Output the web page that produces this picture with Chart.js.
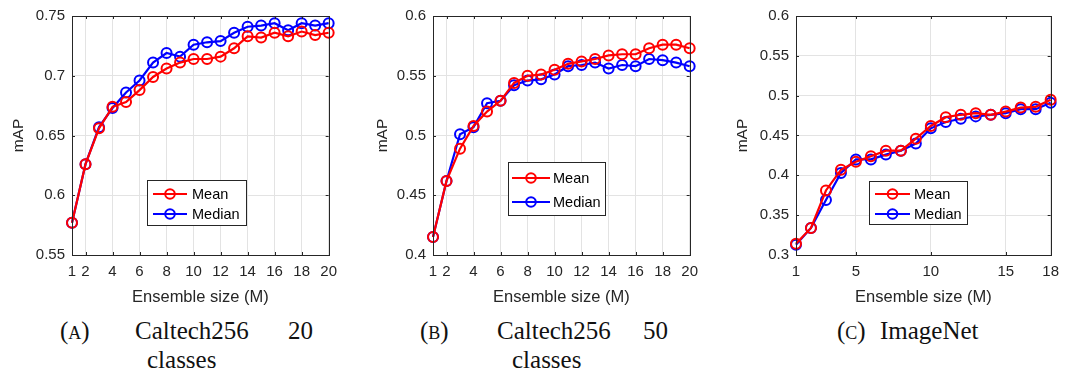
<!DOCTYPE html>
<html>
<head>
<meta charset="utf-8">
<script src="https://cdn.jsdelivr.net/npm/chart.js@4.4.0/dist/chart.umd.min.js"></script>
<style>
  html, body { margin: 0; padding: 0; background: #fff; }
  body { width: 1067px; height: 373px; position: relative; overflow: hidden; }
  canvas { position: absolute; top: 0; }
  .cap { position: absolute; font-family: "Liberation Serif", serif; font-size: 25px; line-height: 25px; color: #111; white-space: nowrap; }
  .sc { font-size: 18px; }
</style>
</head>
<body>
<canvas id="chartA" width="345" height="310" style="left:0"></canvas>
<canvas id="chartB" width="345" height="310" style="left:361px"></canvas>
<canvas id="chartC" width="343" height="310" style="left:724px"></canvas>

<span class="cap" style="left:60px;top:318px">(<span class="sc">A</span>)</span>
<span class="cap" style="left:135px;top:318px">Caltech256</span>
<span class="cap" style="left:288px;top:318px">20</span>
<span class="cap" style="left:147px;top:347px">classes</span>

<span class="cap" style="left:420px;top:318px">(<span class="sc">B</span>)</span>
<span class="cap" style="left:497px;top:318px">Caltech256</span>
<span class="cap" style="left:643px;top:318px">50</span>
<span class="cap" style="left:512px;top:347px">classes</span>

<span class="cap" style="left:837px;top:318px">(<span class="sc">C</span>)</span>
<span class="cap" style="left:880px;top:318px">ImageNet</span>

<script>
// ensemble sizes on the x axis
const sizesCaltech = [1, 2, 3, 4, 5, 6, 7, 8, 9, 10, 11, 12, 13, 14, 15, 16, 17, 18, 19, 20];
const sizesImageNet = [1, 2, 3, 4, 5, 6, 7, 8, 9, 10, 11, 12, 13, 14, 15, 16, 17, 18];

// mAP, Caltech256 with 20 classes
const caltech20Mean = [0.577, 0.626, 0.656, 0.674, 0.678, 0.688, 0.699, 0.706, 0.711, 0.714,
                       0.714, 0.716, 0.723, 0.733, 0.732, 0.736, 0.733, 0.737, 0.734, 0.736];
const caltech20Median = [0.577, 0.626, 0.657, 0.673, 0.686, 0.696, 0.711, 0.719, 0.716, 0.726,
                         0.728, 0.729, 0.736, 0.741, 0.742, 0.744, 0.738, 0.744, 0.742, 0.744];

// mAP, Caltech256 with 50 classes
const caltech50Mean = [0.415, 0.462, 0.489, 0.508, 0.520, 0.529, 0.544, 0.550, 0.551, 0.555,
                       0.560, 0.562, 0.564, 0.567, 0.568, 0.568, 0.573, 0.576, 0.576, 0.573];
const caltech50Median = [0.415, 0.462, 0.501, 0.507, 0.527, 0.529, 0.542, 0.546, 0.547, 0.551,
                         0.558, 0.559, 0.561, 0.556, 0.559, 0.558, 0.564, 0.563, 0.561, 0.558];

// mAP, ImageNet
const imagenetMean = [0.314, 0.334, 0.381, 0.407, 0.417, 0.424, 0.431, 0.431, 0.446, 0.462,
                      0.473, 0.476, 0.478, 0.476, 0.480, 0.485, 0.486, 0.495];
const imagenetMedian = [0.313, 0.334, 0.369, 0.403, 0.420, 0.420, 0.426, 0.431, 0.440, 0.459,
                        0.467, 0.471, 0.474, 0.476, 0.478, 0.483, 0.483, 0.491];

// tick labels
const xTicksCaltech = [1, 2, 4, 6, 8, 10, 12, 14, 16, 18, 20];
const xTicksImageNet = [1, 5, 10, 15, 18];
const yTicksA = [0.55, 0.6, 0.65, 0.7, 0.75];
const yTicksB = [0.4, 0.45, 0.5, 0.55, 0.6];
const yTicksC = [0.3, 0.35, 0.4, 0.45, 0.5, 0.55, 0.6];

const seriesNames = ['Mean', 'Median'];

const AXIS = '#262626';
const GRID = '#e3e3e3';
const SANS = '"Liberation Sans", Arial, sans-serif';

function pts(xs, ys) {
    return xs.map((x, i) => ({ x: x, y: ys[i] }));
}

function fmt(v) {
    return String(Number(v.toFixed(2)));
}

// axes box with inward tick marks, plus the boxed legend
const matlabAxes = {
    id: 'matlabAxes',
    afterDatasetsDraw(chart, args, opts) {
        const ctx = chart.ctx;
        const a = chart.chartArea;
        const sx = chart.scales.x, sy = chart.scales.y;
        ctx.save();
        ctx.strokeStyle = AXIS;
        ctx.lineWidth = 1;
        ctx.beginPath();
        sx.ticks.forEach(t => {
            const px = Math.round(sx.getPixelForValue(t.value)) + 0.5;
            ctx.moveTo(px, a.bottom); ctx.lineTo(px, a.bottom - 3);
            ctx.moveTo(px, a.top); ctx.lineTo(px, a.top + 3);
        });
        sy.ticks.forEach(t => {
            const py = Math.round(sy.getPixelForValue(t.value)) + 0.5;
            ctx.moveTo(a.left, py); ctx.lineTo(a.left + 3, py);
            ctx.moveTo(a.right, py); ctx.lineTo(a.right - 3, py);
        });
        ctx.stroke();
        ctx.strokeRect(Math.round(a.left) + 0.5, Math.round(a.top) + 0.5,
                       Math.round(a.right - a.left), Math.round(a.bottom - a.top));

        // legend
        const L = opts.box;
        ctx.fillStyle = '#fff';
        ctx.fillRect(L.x, L.y, L.w, L.h);
        ctx.strokeRect(L.x + 0.5, L.y + 0.5, L.w, L.h);
        chart.data.datasets.forEach((ds, i) => {
            const y = opts.rows[i];
            ctx.strokeStyle = ds.borderColor;
            ctx.lineWidth = 2.2;
            ctx.beginPath();
            ctx.moveTo(opts.line[0], y); ctx.lineTo(opts.line[1], y);
            ctx.stroke();
            ctx.lineWidth = 2;
            ctx.beginPath();
            ctx.arc((opts.line[0] + opts.line[1]) / 2, y, 4.8, 0, Math.PI * 2);
            ctx.stroke();
            ctx.fillStyle = '#000';
            ctx.font = '14.5px ' + SANS;
            ctx.textBaseline = 'middle';
            ctx.fillText(ds.label, opts.textX, y + 1);
        });
        ctx.restore();
    }
};

function makeChart(id, xs, mean, median, xTicks, yTicks, xMax, yMin, yMax, titlePad, legend) {
    const ctx = document.getElementById(id).getContext('2d');
    return new Chart(ctx, {
        type: 'line',
        data: {
            datasets: [
                { label: seriesNames[0], data: pts(xs, mean), borderColor: '#ff0000' },
                { label: seriesNames[1], data: pts(xs, median), borderColor: '#0000ff' }
            ].map(ds => Object.assign(ds, {
                borderWidth: 2.2,
                pointRadius: 5,
                pointBorderWidth: 2,
                pointBackgroundColor: 'rgba(0,0,0,0)',
                pointBorderColor: ds.borderColor,
                tension: 0,
                clip: false
            }))
        },
        options: {
            responsive: false,
            animation: false,
            events: [],
            layout: { padding: { top: 15, right: 12, left: 0, bottom: 0 } },
            plugins: {
                legend: { display: false },
                tooltip: { enabled: false },
                matlabAxes: legend
            },
            scales: {
                x: {
                    type: 'linear',
                    min: 1,
                    max: xMax,
                    afterBuildTicks: s => { s.ticks = xTicks.map(v => ({ value: v })); },
                    afterFit: s => { s.height = 55; },
                    grid: { color: GRID, drawTicks: false },
                    border: { display: false },
                    ticks: {
                        autoSkip: false, maxRotation: 0, padding: 8,
                        color: AXIS, font: { family: SANS, size: 15 },
                        callback: v => String(v)
                    },
                    title: {
                        display: true, text: 'Ensemble size (M)', color: AXIS,
                        font: { family: SANS, size: 16.5 }, padding: { top: 0, bottom: 3 }
                    }
                },
                y: {
                    min: yMin,
                    max: yMax,
                    afterBuildTicks: s => { s.ticks = yTicks.map(v => ({ value: v })); },
                    afterFit: s => { s.width = 72; },
                    grid: { color: GRID, drawTicks: false },
                    border: { display: false },
                    ticks: {
                        padding: 7, color: AXIS, font: { family: SANS, size: 15 },
                        callback: v => fmt(v)
                    },
                    title: {
                        display: true, text: 'mAP', color: AXIS,
                        font: { family: SANS, size: 15.5 }, padding: { top: titlePad, bottom: 0 }
                    }
                }
            }
        },
        plugins: [matlabAxes]
    });
}

makeChart('chartA', sizesCaltech, caltech20Mean, caltech20Median, xTicksCaltech, yTicksA,
          20, 0.55, 0.75, 9,
          { box: { x: 147, y: 180, w: 99, h: 45 }, rows: [194, 214], line: [153, 187], textX: 192 });

makeChart('chartB', sizesCaltech, caltech50Mean, caltech50Median, xTicksCaltech, yTicksB,
          20, 0.4, 0.6, 12,
          { box: { x: 147, y: 162, w: 97, h: 53 }, rows: [178, 202], line: [151, 189], textX: 192 });

makeChart('chartC', sizesImageNet, imagenetMean, imagenetMedian, xTicksImageNet, yTicksC,
          18, 0.3, 0.6, 9,
          { box: { x: 145, y: 181, w: 98, h: 43 }, rows: [194, 214], line: [151, 186], textX: 190 });
</script>
</body>
</html>
